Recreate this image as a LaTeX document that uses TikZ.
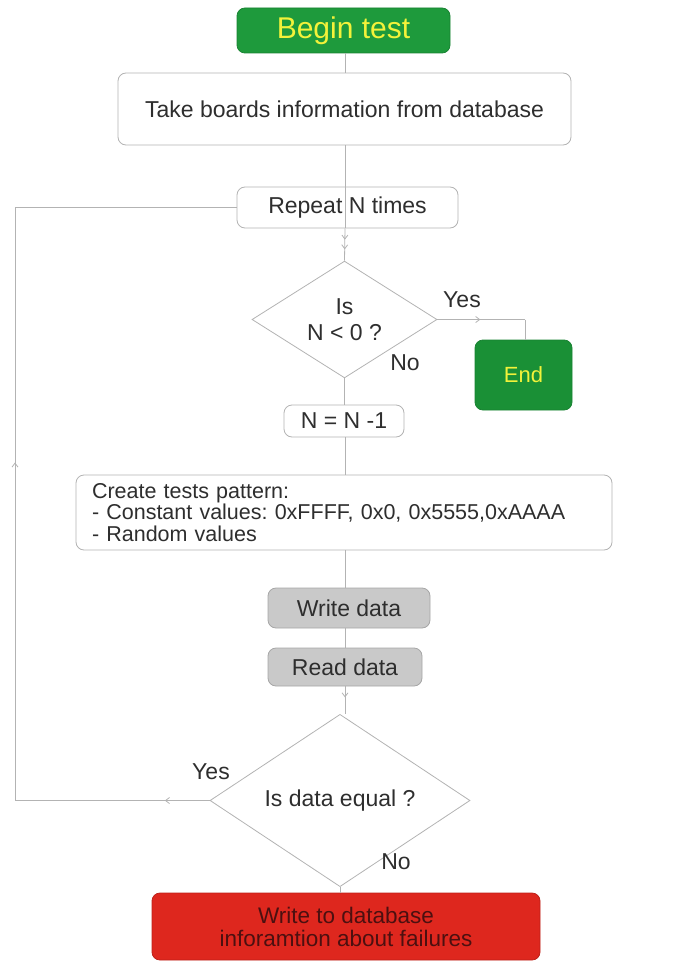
\documentclass[tikz,border=0pt]{standalone}
\usepackage{fontspec}
\setmainfont{Liberation Sans}
\usetikzlibrary{shapes.geometric,decorations.markings,arrows.meta}
\definecolor{linec}{HTML}{B3B3B3}
\definecolor{textc}{HTML}{2E2E2E}
\definecolor{greenc}{HTML}{1E9A3C}
\definecolor{greene}{HTML}{1A9036}
\definecolor{yellowc}{HTML}{F2F23A}
\definecolor{grayf}{HTML}{C9C9C9}
\definecolor{grayd}{HTML}{A6A6A6}
\definecolor{redc}{HTML}{DE271E}
\definecolor{redt}{HTML}{4C1010}
\frenchspacing
\begin{document}
\begin{tikzpicture}[x=1pt,y=-1pt,
  txt/.style={font=\fontsize{23}{24}\selectfont},
  box/.style={draw=linec, line width=0.8pt, rounded corners=8pt, fill=white, text=textc, inner sep=0pt, txt, align=center},
  gbox/.style={box, fill=greenc, draw=greenc!85!black, text=yellowc},
  graybox/.style={box, fill=grayf, draw=grayd, text=textc},
  redbox/.style={box, fill=redc, draw=redc!85!black, text=redt, font=\fontsize{22.5}{23}\selectfont},
  decision/.style={diamond, draw=linec, line width=0.8pt, fill=white, inner sep=0pt, text=textc, txt, align=center},
  flow/.style={draw=linec, line width=0.8pt},
  marr/.style={postaction={decorate, decoration={markings, mark=at position #1 with {\arrow{Straight Barb[length=4pt,width=6pt]}}}}},
  lbl/.style={text=textc, font=\fontsize{23}{24}\selectfont, inner sep=0pt}
]
\useasboundingbox (0,0) rectangle (688,963);

\node[gbox, minimum width=213pt, minimum height=45pt, font=\fontsize{30}{32}\selectfont] (begin) at (343.5,30.5) {Begin test};
\node[box, minimum width=453pt, minimum height=72pt] (take) at (344.5,109) {Take boards information from database};
\node[box, minimum width=221pt, minimum height=41pt] (rep) at (347.5,207.5) {Repeat N times};
\node[decision, minimum width=185pt, minimum height=115pt, font=\fontsize{23}{26}\selectfont] (d1) at (344.5,319.5) {Is\\N < 0 ?};
\node[gbox, fill=greene, minimum width=97pt, minimum height=70pt, font=\fontsize{22}{24}\selectfont] (end) at (523.5,375) {End};
\node[box, minimum width=120pt, minimum height=32pt] (dec) at (344,421) {N = N -1};
\node[box, minimum width=536pt, minimum height=75pt, text width=504pt, align=left, font=\fontsize{21.5}{21.5}\selectfont] (create) at (344,512.5) {Create tests pattern:\\- Constant values: 0xFFFF, 0x0, 0x5555,0xAAAA\\- Random values};
\node[graybox, minimum width=162pt, minimum height=40pt] (write) at (349,608) {Write data};
\node[graybox, minimum width=154pt, minimum height=38pt] (read) at (345,667) {Read data};
\node[decision, minimum width=260pt, minimum height=135pt] (d2) at (340,800.5) {Is data equal ?};
\node[redbox, minimum width=388pt, minimum height=67pt] (fail) at (346,926.5) {Write to database\\inforamtion about failures};

\node[lbl] (yes1) at (462,300) {Yes};
\node[lbl] (no1) at (405,363) {No};
\node[lbl] (yes2) at (211,772) {Yes};
\node[lbl] (no2) at (396,862) {No};

\coordinate (c1) at (525,319.5);
\coordinate (c2) at (15,800.5);
\coordinate (c3) at (15,207.5);

\draw[flow] (begin.south -| 345,0) -- (take.north -| 345,0);
\draw[flow] (take.south -| 345,0) -- (rep.south -| 345,0);
\draw[flow, marr=0.35, marr=0.65] (rep.south -| 345,0) -- (d1.north);
\draw[flow, marr=0.49] (d1.east) -- (c1);
\draw[flow] (c1) -- (c1 |- end.north);
\draw[flow] (d1.south) -- (dec.north -| d1.south);
\draw[flow] (dec.south -| 345,0) -- (create.north -| 345,0);
\draw[flow] (create.south -| 345,0) -- (write.north -| 345,0);
\draw[flow] (write.south -| 345,0) -- (read.north -| 345,0);
\draw[flow, marr=0.4] (read.south -| 345,0) -- (d2.north -| 345,0);
\draw[flow] (d2.south) -- (fail.north -| d2.south);
\draw[flow, marr=0.23] (d2.west) -- (c2);
\draw[flow, marr=0.57] (c2) -- (c3);
\draw[flow] (c3) -- (rep.west);
\end{tikzpicture}
\end{document}
